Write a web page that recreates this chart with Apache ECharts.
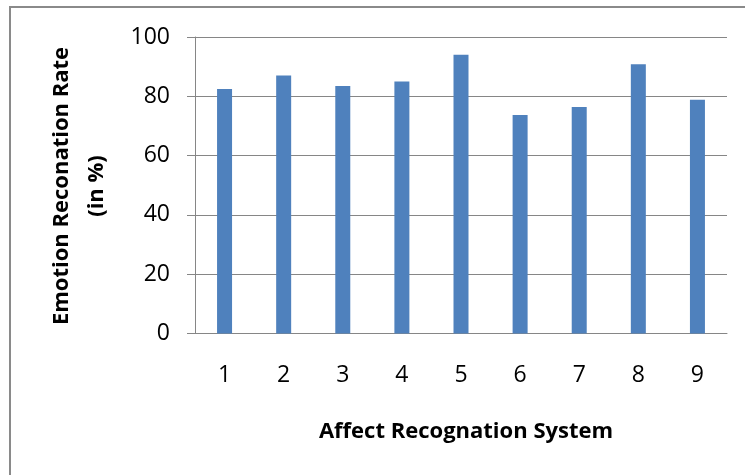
<!DOCTYPE html>
<html>
<head>
<meta charset="utf-8">
<script src="https://cdn.jsdelivr.net/npm/echarts@6/dist/echarts.min.js"></script>
<style>
html,body{margin:0;padding:0;background:#fff;}
#chart{width:745px;height:475px;}
</style>
</head>
<body>
<div id="chart"></div>
<script>
const categories = ['1','2','3','4','5','6','7','8','9'];
const rates = [82.5, 87.0, 83.5, 85.0, 94.0, 73.7, 76.4, 90.8, 78.8];
const yTitleLine1 = 'Emotion Reconation Rate';
const yTitleLine2 = '(in %)';
const xTitle = 'Affect Recognation System';

const FONT = '"Open Sans", "Liberation Sans", sans-serif';
const chart = echarts.init(document.getElementById('chart'), null, {renderer:'canvas'});
chart.setOption({
  animation:false,
  backgroundColor:'#ffffff',
  grid:{left:195, right:18, top:37, bottom:141.5},
  xAxis:{
    type:'category',
    data:categories,
    axisLine:{lineStyle:{color:'#868686', width:1}},
    axisTick:{show:false},
    axisLabel:{color:'#000', fontFamily:FONT, fontSize:23, margin:30},
    splitLine:{show:false}
  },
  yAxis:{
    type:'value',
    min:0, max:100, interval:20,
    axisLine:{show:true, lineStyle:{color:'#868686', width:1}},
    axisTick:{show:true, length:8, lineStyle:{color:'#868686'}},
    axisLabel:{color:'#000', fontFamily:FONT, fontSize:23, margin:25},
    splitLine:{show:true, lineStyle:{color:'#868686', width:1}}
  },
  series:[{
    type:'bar',
    data:rates,
    barWidth:15,
    itemStyle:{color:'#4f81bd'}
  }],
  graphic:[
    {type:'rect', silent:true, shape:{x:10, y:7, width:800, height:520},
     style:{fill:'none', stroke:'#8a8a8a', lineWidth:2}},
    {type:'text', x:62, y:186, rotation:Math.PI/2,
     style:{text:yTitleLine1, font:'bold 22px '+FONT, fill:'#000', textAlign:'center', textVerticalAlign:'middle'}},
    {type:'text', x:97, y:186, rotation:Math.PI/2,
     style:{text:yTitleLine2, font:'bold 22px '+FONT, fill:'#000', textAlign:'center', textVerticalAlign:'middle'}},
    {type:'text', x:466, y:432,
     style:{text:xTitle, font:'bold 22px '+FONT, fill:'#000', textAlign:'center', textVerticalAlign:'middle'}}
  ]
});
</script>
</body>
</html>
